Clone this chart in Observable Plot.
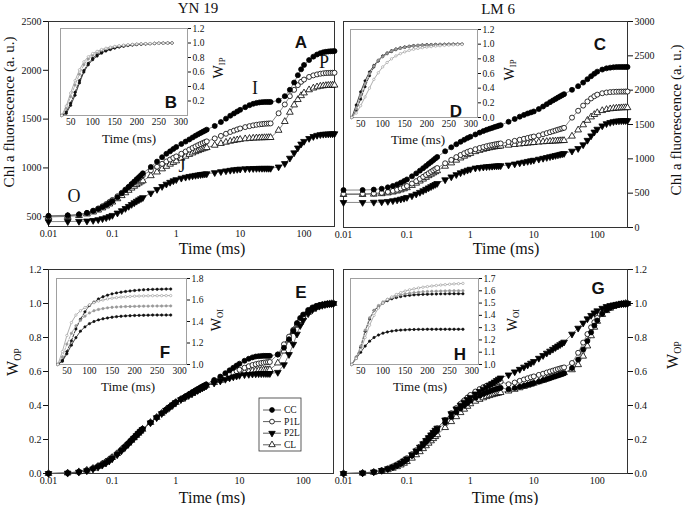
<!DOCTYPE html>
<html><head><meta charset="utf-8">
<script src="https://cdn.jsdelivr.net/npm/d3@7"></script>
<script src="https://cdn.jsdelivr.net/npm/@observablehq/plot@0.6"></script>
<style>
html,body{margin:0;padding:0;background:#fff;overflow:hidden}
#chart{position:relative;width:685px;height:505px}
#chart svg{position:absolute;left:0;top:0}
</style></head><body><div id="chart"></div>
<script>
// ---------- time grids ----------
const T = [0.01,0.02,0.03,0.04,0.05,0.06,0.07,0.08,0.09,0.1,
  0.12,0.14,0.16,0.18,0.2,0.22,0.24,0.26,0.28,0.3,
  0.4,0.5,0.6,0.7,0.8,0.9,1,
  1.2,1.4,1.6,1.8,2,2.2,2.4,2.6,2.8,3,
  4,5,6,7,8,9,10,
  12,14,16,18,20,22,24,26,28,30,
  40,50,60,70,80,90,100,
  120,140,160,180,200,220,240,260,280,300];
const TI = [30,40,50,60,70,80,90,100,110,120,130,140,150,160,170,180,190,200,210,220,230,240,250,260,270,280];
const seriesNames = ["CC","P1L","P2L","CL"];
const xTicksMain = [0.01,0.1,1,10,100];
const xTicksInset = [50,100,150,200,250,300];
const yTicksA = [500,1000,1500,2000,2500];
const yTicksC = [0,500,1000,1500,2000,2500,3000];
const yTicksW = [0,0.2,0.4,0.6,0.8,1.0,1.2];
const yTicksB = [0.2,0.4,0.6,0.8,1.0,1.2];
const yTicksD = [0,0.2,0.4,0.6,0.8,1.0,1.2];
const yTicksF = [1.0,1.2,1.4,1.6,1.8];
const yTicksH = [1.0,1.1,1.2,1.3,1.4,1.5,1.6,1.7];

// ---------- Panel A (YN 19, Chl a fluorescence) ----------
const A_CC = [510,515,525,540,560,580,600,620,640,660,
 700,740,775,805,835,860,885,905,925,945,
 1010,1065,1110,1145,1170,1195,1215,
 1245,1270,1292,1312,1330,1345,1358,1370,1381,1392,
 1430,1470,1505,1535,1558,1578,1595,
 1622,1643,1657,1666,1671,1674,1675,1676,1676,1676,
 1690,1735,1800,1875,1950,2010,2055,
 2105,2140,2162,2176,2185,2190,2193,2195,2196,2197];
const A_P1L = [505,510,520,538,562,585,608,630,652,672,
 710,745,778,806,832,855,876,894,910,925,
 975,1012,1042,1066,1086,1103,1118,
 1145,1168,1188,1205,1220,1233,1245,1255,1264,1272,
 1302,1328,1350,1368,1382,1394,1404,
 1418,1428,1436,1442,1446,1449,1452,1454,1455,1456,
 1560,1650,1735,1800,1848,1882,1905,
 1932,1948,1958,1965,1969,1972,1973,1974,1975,1975];
const A_P2L = [450,451,453,456,462,470,480,490,502,514,
 538,562,585,606,626,643,659,673,685,696,
 742,780,810,834,853,868,880,
 895,905,913,919,924,928,932,935,938,940,
 952,962,970,976,981,985,988,
 991,993,994,995,996,996,996,996,996,996,
 1010,1045,1100,1155,1205,1245,1272,
 1302,1322,1334,1341,1345,1347,1348,1349,1350,1350];
const A_CL = [498,503,512,528,548,568,590,610,630,650,
 684,716,745,770,793,812,829,844,857,868,
 920,958,990,1016,1038,1056,1072,
 1098,1120,1138,1153,1166,1177,1187,1195,1202,1208,
 1232,1250,1263,1273,1281,1287,1292,
 1298,1302,1305,1307,1308,1309,1310,1310,1311,1311,
 1385,1475,1570,1645,1700,1740,1768,
 1800,1818,1830,1837,1841,1844,1846,1847,1848,1848];

// ---------- Panel C (LM 6, Chl a fluorescence) ----------
const C_CC = [545,546,552,565,585,605,628,652,676,700,
 745,788,828,864,897,927,955,981,1005,1027,
 1110,1168,1212,1248,1278,1302,1322,
 1355,1382,1404,1422,1437,1450,1462,1472,1482,1490,
 1540,1580,1614,1640,1660,1676,1690,
 1725,1762,1795,1825,1850,1872,1892,1910,1927,1942,
 2005,2058,2110,2160,2203,2240,2270,
 2300,2318,2328,2333,2336,2337,2338,2338,2338,2338];
const C_P1L = [490,491,496,505,518,533,550,568,586,604,
 640,675,708,738,766,790,812,832,850,866,
 935,985,1025,1056,1081,1101,1117,
 1140,1158,1172,1184,1194,1202,1209,1215,1220,1224,
 1245,1262,1278,1292,1304,1315,1325,
 1340,1358,1374,1388,1401,1413,1424,1434,1443,1451,
 1600,1700,1775,1835,1880,1912,1935,
 1955,1966,1972,1975,1977,1978,1979,1979,1980,1980];
const C_P2L = [365,365,368,373,380,390,401,413,425,438,
 462,487,512,535,557,577,595,612,627,641,
 695,737,770,797,818,835,849,
 866,874,880,885,889,892,895,897,899,900,
 910,925,940,952,963,972,980,
 995,1008,1020,1031,1040,1049,1057,1065,1072,1078,
 1112,1150,1205,1270,1335,1390,1432,
 1480,1512,1530,1542,1549,1553,1555,1556,1557,1557];
const C_CL = [480,481,485,492,503,516,531,547,563,579,
 612,645,676,704,730,754,775,794,811,826,
 892,940,980,1012,1038,1060,1078,
 1104,1123,1138,1150,1160,1168,1174,1179,1183,1186,
 1198,1208,1216,1222,1228,1233,1237,
 1243,1248,1252,1255,1258,1260,1262,1264,1265,1266,
 1330,1420,1495,1560,1610,1645,1672,
 1702,1718,1728,1734,1738,1741,1743,1744,1745,1745];

// ---------- Panel E (YN 19, W_OP) ----------
const E_CC = [0,0.003,0.009,0.018,0.029,0.041,0.053,0.065,0.078,0.091,
 0.115,0.138,0.159,0.178,0.196,0.212,0.227,0.24,0.252,0.263,
 0.30,0.33,0.355,0.375,0.392,0.407,0.42,
 0.438,0.453,0.466,0.478,0.488,0.497,0.505,0.512,0.518,0.524,
 0.55,0.57,0.59,0.607,0.622,0.635,0.646,
 0.663,0.675,0.683,0.688,0.69,0.691,0.692,0.692,0.692,0.692,
 0.70,0.74,0.79,0.84,0.885,0.915,0.935,
 0.962,0.977,0.986,0.991,0.994,0.996,0.998,0.999,1,1];
const E_P1L = [0,0.003,0.01,0.02,0.032,0.045,0.058,0.071,0.084,0.097,
 0.12,0.142,0.162,0.18,0.197,0.212,0.226,0.238,0.25,0.26,
 0.30,0.33,0.354,0.374,0.39,0.405,0.418,
 0.436,0.45,0.463,0.474,0.484,0.493,0.501,0.508,0.514,0.52,
 0.54,0.556,0.57,0.582,0.593,0.602,0.61,
 0.622,0.631,0.638,0.643,0.647,0.65,0.652,0.654,0.655,0.656,
 0.70,0.76,0.805,0.845,0.878,0.903,0.922,
 0.95,0.968,0.979,0.986,0.99,0.993,0.995,0.997,0.999,1];
const E_P2L = [0,0.002,0.008,0.016,0.026,0.037,0.049,0.061,0.073,0.086,
 0.11,0.133,0.154,0.173,0.191,0.207,0.222,0.236,0.248,0.259,
 0.298,0.328,0.352,0.372,0.389,0.404,0.417,
 0.434,0.447,0.459,0.469,0.479,0.488,0.496,0.503,0.509,0.515,
 0.532,0.544,0.554,0.562,0.568,0.573,0.577,
 0.581,0.583,0.585,0.586,0.587,0.587,0.588,0.588,0.588,0.588,
 0.595,0.64,0.70,0.76,0.82,0.87,0.90,
 0.94,0.963,0.976,0.984,0.989,0.993,0.996,0.998,0.999,1];
const E_CL = [0,0.003,0.01,0.019,0.03,0.042,0.055,0.068,0.081,0.094,
 0.117,0.14,0.16,0.178,0.195,0.21,0.224,0.237,0.249,0.26,
 0.30,0.33,0.354,0.374,0.39,0.405,0.418,
 0.435,0.449,0.461,0.472,0.482,0.491,0.499,0.506,0.512,0.518,
 0.535,0.548,0.559,0.568,0.576,0.582,0.588,
 0.595,0.6,0.603,0.605,0.607,0.608,0.609,0.61,0.61,0.611,
 0.65,0.72,0.785,0.835,0.872,0.9,0.92,
 0.948,0.966,0.978,0.985,0.99,0.993,0.996,0.998,0.999,1];

// ---------- Panel G (LM 6, W_OP) ----------
const G_CC = [0,0.002,0.008,0.016,0.026,0.036,0.047,0.058,0.07,0.082,
 0.105,0.127,0.148,0.167,0.185,0.201,0.216,0.23,0.243,0.255,
 0.298,0.333,0.36,0.382,0.4,0.415,0.428,
 0.445,0.458,0.468,0.476,0.483,0.489,0.494,0.498,0.501,0.504,
 0.495,0.503,0.51,0.516,0.522,0.527,0.532,
 0.54,0.548,0.555,0.561,0.567,0.572,0.577,0.581,0.585,0.589,
 0.62,0.67,0.73,0.78,0.83,0.87,0.9,
 0.94,0.962,0.975,0.984,0.99,0.994,0.997,0.999,1,1];
const G_P1L = [0,0.003,0.01,0.019,0.03,0.042,0.054,0.066,0.078,0.09,
 0.114,0.137,0.158,0.177,0.195,0.212,0.227,0.241,0.254,0.266,
 0.315,0.355,0.385,0.41,0.43,0.447,0.462,
 0.482,0.497,0.508,0.516,0.522,0.527,0.531,0.534,0.537,0.54,
 0.525,0.535,0.545,0.553,0.56,0.566,0.571,
 0.58,0.587,0.594,0.6,0.605,0.61,0.614,0.618,0.621,0.624,
 0.65,0.71,0.77,0.82,0.86,0.89,0.915,
 0.945,0.964,0.976,0.984,0.99,0.994,0.997,0.999,1,1];
const G_P2L = [0,0.003,0.009,0.018,0.028,0.039,0.05,0.062,0.074,0.086,
 0.11,0.133,0.155,0.175,0.194,0.211,0.227,0.242,0.255,0.267,
 0.315,0.352,0.38,0.402,0.42,0.435,0.448,
 0.468,0.483,0.496,0.508,0.519,0.529,0.538,0.547,0.555,0.562,
 0.58,0.598,0.613,0.626,0.638,0.649,0.659,
 0.678,0.694,0.708,0.72,0.731,0.741,0.75,0.758,0.766,0.773,
 0.82,0.855,0.885,0.91,0.93,0.945,0.957,
 0.972,0.982,0.988,0.992,0.995,0.997,0.998,0.999,1,1];
const G_CL = [0,0.002,0.007,0.014,0.022,0.031,0.04,0.05,0.06,0.07,
 0.09,0.11,0.128,0.146,0.163,0.178,0.192,0.205,0.217,0.228,
 0.27,0.305,0.334,0.358,0.378,0.395,0.41,
 0.425,0.436,0.445,0.452,0.458,0.463,0.467,0.47,0.473,0.476,
 0.485,0.495,0.504,0.512,0.519,0.525,0.531,
 0.54,0.548,0.556,0.563,0.569,0.575,0.58,0.585,0.589,0.593,
 0.61,0.64,0.69,0.75,0.81,0.86,0.895,
 0.935,0.958,0.972,0.982,0.988,0.993,0.996,0.998,1,1];

// ---------- Insets ----------
const B_CC = [0,0.03,0.14,0.28,0.45,0.6,0.7,0.77,0.82,0.86,0.89,0.91,0.93,0.945,0.955,0.965,0.972,0.978,0.983,0.987,0.99,0.993,0.995,0.997,0.999,1];
const B_P1L = [0,0.1,0.26,0.42,0.57,0.7,0.78,0.83,0.87,0.9,0.92,0.935,0.948,0.958,0.966,0.973,0.979,0.984,0.988,0.991,0.993,0.995,0.997,0.998,0.999,1];
const B_P2L = [0,0.05,0.17,0.32,0.48,0.62,0.72,0.79,0.84,0.875,0.9,0.92,0.935,0.95,0.96,0.968,0.975,0.98,0.985,0.988,0.991,0.994,0.996,0.998,0.999,1];
const B_CL = [0,0.13,0.31,0.48,0.63,0.74,0.81,0.855,0.885,0.91,0.928,0.942,0.953,0.962,0.97,0.976,0.981,0.985,0.988,0.991,0.993,0.995,0.997,0.998,0.999,1];
const D_CC = [0,0.17,0.35,0.5,0.62,0.71,0.78,0.84,0.88,0.91,0.935,0.95,0.962,0.972,0.98,0.985,0.989,0.992,0.994,0.996,0.997,0.998,0.999,1,1,1];
const D_P1L = [0,0.12,0.3,0.46,0.6,0.7,0.78,0.83,0.875,0.905,0.93,0.945,0.958,0.968,0.976,0.982,0.987,0.99,0.993,0.995,0.997,0.998,0.999,1,1,1];
const D_P2L = [0,0.1,0.25,0.42,0.57,0.69,0.77,0.83,0.87,0.9,0.925,0.943,0.956,0.966,0.974,0.98,0.985,0.989,0.992,0.994,0.996,0.997,0.998,0.999,1,1];
const D_CL = [0,0.06,0.16,0.28,0.4,0.52,0.61,0.69,0.75,0.8,0.84,0.87,0.895,0.915,0.93,0.942,0.952,0.96,0.967,0.973,0.978,0.983,0.987,0.99,0.993,0.995];
const F_CC = [1,1.03,1.1,1.18,1.25,1.31,1.35,1.38,1.40,1.415,1.425,1.433,1.44,1.445,1.449,1.452,1.454,1.456,1.457,1.458,1.459,1.46,1.46,1.46,1.46,1.46];
const F_P1L = [1,1.07,1.19,1.29,1.36,1.41,1.45,1.48,1.5,1.512,1.52,1.527,1.532,1.535,1.537,1.539,1.54,1.541,1.542,1.543,1.543,1.544,1.544,1.544,1.545,1.545];
const F_P2L = [1,1.04,1.12,1.22,1.33,1.42,1.49,1.55,1.58,1.61,1.63,1.645,1.657,1.666,1.673,1.679,1.684,1.688,1.692,1.695,1.697,1.699,1.7,1.701,1.702,1.702];
const F_CL = [1,1.12,1.27,1.39,1.46,1.5,1.53,1.555,1.575,1.59,1.6,1.61,1.617,1.622,1.627,1.63,1.633,1.635,1.637,1.638,1.639,1.64,1.64,1.641,1.641,1.641];
const H_CC = [1,1.05,1.1,1.15,1.19,1.22,1.24,1.255,1.265,1.272,1.277,1.28,1.282,1.284,1.285,1.286,1.286,1.287,1.287,1.287,1.287,1.287,1.287,1.287,1.287,1.287];
const H_P1L = [1,1.06,1.15,1.28,1.38,1.44,1.48,1.51,1.53,1.545,1.558,1.567,1.575,1.58,1.585,1.589,1.592,1.594,1.596,1.597,1.598,1.599,1.6,1.6,1.6,1.6];
const H_P2L = [1,1.06,1.14,1.27,1.37,1.44,1.47,1.5,1.52,1.535,1.545,1.553,1.559,1.563,1.567,1.569,1.571,1.572,1.573,1.574,1.575,1.575,1.576,1.576,1.576,1.576];
const H_CL = [1,1.05,1.12,1.22,1.32,1.4,1.46,1.5,1.53,1.55,1.57,1.585,1.598,1.608,1.616,1.623,1.629,1.634,1.639,1.643,1.647,1.65,1.653,1.656,1.658,1.66];

// ---------- layout ----------
const W = 685, H = 505;
const serif = "'Liberation Serif','Times New Roman',serif";
const sans = "'Liberation Sans',Arial,sans-serif";
const box = {
  A:{x0:48,x1:334,y0:21,y1:226}, C:{x0:343,x1:627,y0:21,y1:227},
  E:{x0:48,x1:333,y0:269,y1:473}, G:{x0:343,x1:627,y0:269,y1:473},
  B:{x0:60,x1:187,y0:28,y1:115}, D:{x0:350,x1:477,y0:29,y1:117},
  F:{x0:56,x1:186,y0:278,y1:364}, H:{x0:350,x1:478,y0:278,y1:364}
};
const triDown = {draw(ctx, size){ const y = -Math.sqrt(size/(Math.sqrt(3)*3)); const s = Math.sqrt(3);
  ctx.moveTo(0,-y*2); ctx.lineTo(-s*y, y); ctx.lineTo(s*y, y); ctx.closePath(); }};
const STY = {
  CC:{symbol:"circle", fill:"#000"},
  P1L:{symbol:"circle", fill:"#fff"},
  P2L:{symbol:triDown, fill:"#000"},
  CL:{symbol:"triangle", fill:"#fff"}
};
const ISTY = {
  CC:{stroke:"#111", dash:null, fill:"#111"},
  P2L:{stroke:"#111", dash:"2.5,1.5", fill:"#111"},
  P1L:{stroke:"#999", dash:"2.5,1.5", fill:"#999"},
  CL:{stroke:"#999", dash:null, fill:"#fff"}
};
const root = document.getElementById("chart");
const fmt1 = d3.format(".1f");

function mainPanel(b, yDomain, yTicks, yFmt, yAnchor, series) {
  const marks = [Plot.frame({stroke:"#333", strokeWidth:1})];
  marks.push(Plot.axisX({ticks:xTicksMain, tickFormat:d=>String(d), tickSize:0, tickPadding:3, label:null}));
  marks.push(Plot.axisY({anchor:yAnchor, ticks:yTicks, tickFormat:yFmt, tickSize:5, tickPadding:2, label:null}));
  const dataOf = vals => vals.map((v,i)=>({t:T[i], v}));
  for (const [name, vals] of series) marks.push(Plot.line(dataOf(vals), {x:"t", y:"v", stroke:"#555", strokeWidth:0.7}));
  for (const name of ["CL","P1L","P2L","CC"]) {
    const s = series.find(d=>d[0]===name);
    marks.push(Plot.dot(dataOf(s[1]), {x:"t", y:"v", r:2.5, symbol:STY[name].symbol, fill:STY[name].fill, stroke:"#000", strokeWidth:0.8}));
  }
  const svg = Plot.plot({width:W, height:H, marginLeft:b.x0, marginRight:W-b.x1, marginTop:b.y0, marginBottom:H-b.y1,
    x:{type:"log", domain:[0.01,300], label:null}, y:{domain:yDomain, label:null},
    style:{background:"transparent", fontFamily:serif, fontSize:"10px", color:"#111", overflow:"visible"}, marks});
  root.appendChild(svg);
}
function inset(b, yDomain, yTicks, series) {
  const marks = [Plot.frame({fill:"#fff", stroke:"#a0a0a0"})];
  marks.push(Plot.axisX({ticks:xTicksInset, tickSize:0, tickPadding:3, label:null}));
  marks.push(Plot.axisY({anchor:"right", ticks:yTicks, tickFormat:fmt1, tickSize:3, tickPadding:2, label:null}));
  const dataOf = vals => vals.map((v,i)=>({t:TI[i], v}));
  for (const [name, vals] of series) {
    const st = ISTY[name];
    marks.push(Plot.line(dataOf(vals), {x:"t", y:"v", stroke:st.stroke, strokeWidth:0.8, strokeDasharray:st.dash}));
    marks.push(Plot.dot(dataOf(vals), {x:"t", y:"v", r:1.2, fill:st.fill, stroke:st.stroke, strokeWidth:0.6}));
  }
  const svg = Plot.plot({width:W, height:H, marginLeft:b.x0, marginRight:W-b.x1, marginTop:b.y0, marginBottom:H-b.y1,
    x:{domain:[27,315], label:null}, y:{domain:yDomain, label:null},
    style:{background:"transparent", fontFamily:serif, fontSize:"9.5px", color:"#111", overflow:"visible"}, marks});
  root.appendChild(svg);
}

mainPanel(box.A, [400,2500], yTicksA, d=>String(d), "left", [["CC",A_CC],["P1L",A_P1L],["P2L",A_P2L],["CL",A_CL]]);
mainPanel(box.C, [0,3000], yTicksC, d=>String(d), "right", [["CC",C_CC],["P1L",C_P1L],["P2L",C_P2L],["CL",C_CL]]);
mainPanel(box.E, [0,1.2], yTicksW, fmt1, "left", [["CC",E_CC],["P1L",E_P1L],["P2L",E_P2L],["CL",E_CL]]);
mainPanel(box.G, [0,1.2], yTicksW, fmt1, "right", [["CC",G_CC],["P1L",G_P1L],["P2L",G_P2L],["CL",G_CL]]);
inset(box.B, [0,1.2], yTicksB, [["CC",B_CC],["P2L",B_P2L],["P1L",B_P1L],["CL",B_CL]]);
inset(box.D, [0,1.2], yTicksD, [["CC",D_CC],["P2L",D_P2L],["P1L",D_P1L],["CL",D_CL]]);
inset(box.F, [1.0,1.8], yTicksF, [["CC",F_CC],["P2L",F_P2L],["P1L",F_P1L],["CL",F_CL]]);
inset(box.H, [1.0,1.7], yTicksH, [["CC",H_CC],["P2L",H_P2L],["P1L",H_P1L],["CL",H_CL]]);

// ---------- text overlay ----------
const ov = d3.create("svg").attr("width",W).attr("height",H).attr("font-family",serif).attr("fill","#111");
function txt(x,y,s,size,o={}) {
  return ov.append("text").attr("x",x).attr("y",y).attr("text-anchor","middle").attr("dominant-baseline","central")
    .attr("font-size",size).attr("font-family",o.family||serif).attr("font-weight",o.weight||"normal").text(s);
}
function rot(x,y,main,sub,size) {
  const t = ov.append("text").attr("transform",`translate(${x},${y}) rotate(-90)`).attr("text-anchor","middle")
    .attr("dominant-baseline","central").attr("font-size",size);
  t.append("tspan").text(main);
  if (sub) t.append("tspan").attr("font-size",size*0.62).attr("dy",size*0.3).text(sub);
}
txt(198,8,"YN 19",15); txt(498,9,"LM 6",15);
// axis titles
txt(212,248,"Time (ms)",16); txt(506,248,"Time (ms)",16);
txt(212,497,"Time (ms)",16); txt(505,497,"Time (ms)",16);
txt(129,138,"Time (ms)",13); txt(418,139,"Time (ms)",13);
txt(128,386,"Time (ms)",13); txt(420,386,"Time (ms)",13);
rot(9,112,"Chl a fluorescence (a. u.)",null,15);
rot(676,120,"Chl a fluorescence (a. u.)",null,15);
rot(12,362,"W","OP",16); rot(672,355,"W","OP",16);
rot(218,68,"W","IP",14); rot(509,70,"W","IP",14);
rot(216,320,"W","OI",14); rot(512,320,"W","OI",14);
// panel letters
const bold = {family:sans, weight:"bold"};
[["A",301,42],["C",600,44],["E",301,292],["G",598,288],["B",171,102],["D",456,111],["F",165,352],["H",460,354]]
  .forEach(([s,x,y])=>txt(x,y,s,17,bold));
// OJIP annotations
[["O",74,196],["J",182,166],["I",255,88],["P",324,62]].forEach(([s,x,y])=>txt(x,y,s,18));
// legend
const lg = ov.append("g");
lg.append("rect").attr("x",259).attr("y",398).attr("width",42).attr("height",53).attr("fill","#fff").attr("stroke","#333").attr("stroke-width",0.8);
seriesNames.forEach((name,i)=>{
  const y = 410 + i*11.6;
  lg.append("line").attr("x1",263).attr("x2",281).attr("y1",y).attr("y2",y).attr("stroke","#333").attr("stroke-width",0.8);
  const sym = name==="P2L" ? triDown : (name==="CL" ? d3.symbolTriangle : d3.symbolCircle);
  lg.append("path").attr("d", d3.symbol(sym, 2.4*2.4*Math.PI)()).attr("transform",`translate(272,${y})`)
    .attr("fill", STY[name].fill).attr("stroke","#000").attr("stroke-width",0.8);
  lg.append("text").attr("x",284).attr("y",y).attr("dominant-baseline","central").attr("font-size",9.5).text(name);
});
root.appendChild(ov.node());
</script></body></html>
